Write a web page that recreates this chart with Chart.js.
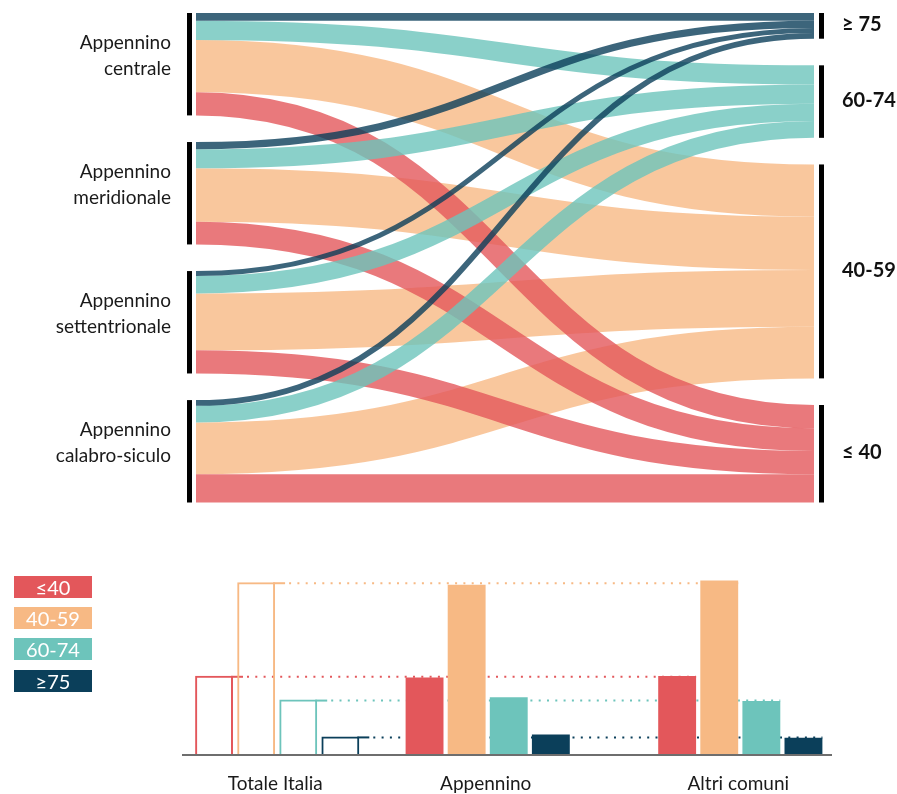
<!DOCTYPE html>
<html>
<head>
<meta charset="utf-8">
<script src="https://cdn.jsdelivr.net/npm/chart.js@4.4.1/dist/chart.umd.min.js"></script>
<style>
  html, body { margin: 0; padding: 0; background: #fff; }
  #wrap { position: relative; width: 897px; height: 794px; overflow: hidden; font-family: Lato, "Open Sans", sans-serif; }
  #sankey { position: absolute; left: 0; top: 0; width: 897px; height: 520px; }
  #bars { position: absolute; left: 0; top: 540px; width: 897px; height: 254px; }
  .key { position: absolute; left: 14px; width: 78px; height: 22px; line-height: 22px; color: #fff;
         text-align: center; font-size: 20px; font-family: Lato, sans-serif; }
</style>
</head>
<body>
<div id="wrap">
  <canvas id="sankey" width="897" height="520"></canvas>
  <canvas id="bars" width="897" height="254"></canvas>
  <div id="legend"></div>
</div>
<script>
// ---- Flow diagram: regions (left) to age bands (right) ----
const regionNames = [
  ['Appennino', 'centrale'],
  ['Appennino', 'meridionale'],
  ['Appennino', 'settentrionale'],
  ['Appennino', 'calabro-siculo']
];
// age bands, top to bottom on the right-hand side
const bandNames = ['≥ 75', '60-74', '40-59', '≤ 40'];
// share of each band inside each region (%), in bandNames order
const shareCentrale       = [7.5, 18.8, 51.0, 22.7];
const shareMeridionale    = [7.1, 18.6, 52.1, 22.2];
const shareSettentrionale = [4.9, 17.0, 55.5, 22.6];
const shareCalabroSiculo  = [5.6, 16.4, 50.3, 27.7];

// ---- Bar chart: band shares by area (%) ----
const groupNames = ['Totale Italia', 'Appennino', 'Altri comuni'];
const legendNames = ['≤40', '40-59', '60-74', '≥75'];
const under40    = [24.3, 23.8, 24.2];
const from40to59 = [53.0, 52.2, 53.5];
const from60to74 = [17.0, 17.7, 16.6];
const over75     = [5.7, 6.3, 5.3];

// colours, bar order (≤40 … ≥75)
const seriesColors = ['#e3575b', '#f7b984', '#6dc4bb', '#0b3f5a'];
// the same colours in band order (≥75 … ≤40)
const bandColors = seriesColors.slice().reverse();

function rgba(hex, a) {
  const n = parseInt(hex.slice(1), 16);
  return `rgba(${(n >> 16) & 255},${(n >> 8) & 255},${n & 255},${a})`;
}

// ---------- flow diagram ----------
const regionShares = [shareCentrale, shareMeridionale, shareSettentrionale, shareCalabroSiculo];
const nodeGap = 26;
const totalUnits = regionShares.flat().reduce((a, b) => a + b, 0) + nodeGap * (regionShares.length - 1);

const sankeyPlugin = {
  id: 'sankeyFlows',
  afterDraw(chart) {
    const { ctx, scales: { x, y } } = chart;
    const px = v => y.getPixelForValue(v);
    const thick = v => Math.abs(y.getPixelForValue(v) - y.getPixelForValue(0));

    // stack the nodes on each side
    let acc = 0;
    const left = regionShares.map(r => {
      const t = r.reduce((a, b) => a + b, 0);
      const n = { y0: acc, y1: acc + t };
      acc += t + nodeGap;
      return n;
    });
    acc = 0;
    const right = bandNames.map((_, j) => {
      const t = regionShares.reduce((a, r) => a + r[j], 0);
      const n = { y0: acc, y1: acc + t };
      acc += t + nodeGap;
      return n;
    });

    // links: bands stacked inside a region, regions stacked inside a band
    const srcOff = left.map(n => n.y0);
    const tgtOff = right.map(n => n.y0);
    const links = [];
    regionShares.forEach((r, i) => r.forEach((v, j) => {
      links.push({ j, v, s: srcOff[i] + v / 2, t: tgtOff[j] + v / 2 });
      srcOff[i] += v;
      tgtOff[j] += v;
    }));

    const x0 = x.getPixelForValue(0);
    const x1 = x.getPixelForValue(1);
    const xm = (x0 + x1) / 2;
    ctx.save();
    ctx.lineCap = 'butt';
    [2, 3, 1, 0].forEach(j => {
      links.filter(l => l.j === j).forEach(l => {
        const ys = px(l.s), yt = px(l.t);
        ctx.beginPath();
        ctx.moveTo(x0, ys);
        ctx.bezierCurveTo(xm, ys, xm, yt, x1, yt);
        ctx.lineWidth = thick(l.v);
        ctx.strokeStyle = rgba(bandColors[j], 0.8);
        ctx.stroke();
      });
    });

    // node bars
    ctx.fillStyle = '#000';
    left.forEach(n => ctx.fillRect(x0 - 9, px(n.y0), 5, px(n.y1) - px(n.y0)));
    right.forEach(n => ctx.fillRect(x1 + 5, px(n.y0), 5, px(n.y1) - px(n.y0)));

    // region labels
    ctx.fillStyle = '#1a1a1a';
    ctx.font = '19px Lato, sans-serif';
    ctx.textAlign = 'right';
    ctx.textBaseline = 'alphabetic';
    left.forEach((n, i) => {
      const c = (px(n.y0) + px(n.y1)) / 2;
      ctx.fillText(regionNames[i][0], x0 - 25, c - 15);
      ctx.fillText(regionNames[i][1], x0 - 25, c + 11);
    });

    // band labels
    ctx.fillStyle = '#111';
    ctx.font = 'bold 20px Lato, sans-serif';
    ctx.textAlign = 'left';
    ctx.textBaseline = 'middle';
    right.forEach((n, j) => {
      const c = (px(n.y0) + px(n.y1)) / 2;
      ctx.fillText(bandNames[j], x1 + 28, c - 1);
    });
    ctx.restore();
  }
};

new Chart(document.getElementById('sankey'), {
  type: 'scatter',
  data: { datasets: [] },
  options: {
    responsive: false,
    animation: false,
    layout: { padding: { left: 196, right: 83, top: 13, bottom: 17.5 } },
    plugins: { legend: { display: false }, tooltip: { enabled: false } },
    scales: {
      x: { type: 'linear', min: 0, max: 1, display: false },
      y: { type: 'linear', min: 0, max: totalUnits, reverse: true, display: false }
    }
  },
  plugins: [sankeyPlugin]
});

// ---------- bar chart ----------
// one slot per bar; empty slots separate the three groups
const groupStart = [0, 5, 11];
const slotCount = 15;
const seriesValues = [under40, from40to59, from60to74, over75];

const barDatasets = seriesValues.map((vals, s) => {
  const data = Array(slotCount).fill(null);
  const bg = Array(slotCount).fill('rgba(0,0,0,0)');
  const bw = Array(slotCount).fill(0);
  vals.forEach((v, g) => {
    const k = groupStart[g] + s;
    data[k] = v;
    // the national total is drawn as an outline
    bg[k] = g === 0 ? 'rgba(0,0,0,0)' : seriesColors[s];
    bw[k] = g === 0 ? 2 : 0;
  });
  return {
    label: legendNames[s],
    data,
    backgroundColor: bg,
    borderColor: seriesColors[s],
    borderWidth: bw,
    borderSkipped: 'bottom',
    grouped: false,
    barPercentage: 0.9,
    categoryPercentage: 1
  };
});

const barDecor = {
  id: 'barDecor',
  beforeDatasetsDraw(chart) {
    const { ctx } = chart;
    ctx.save();
    seriesValues.forEach((_, s) => {
      const meta = chart.getDatasetMeta(s);
      const ref = meta.data[groupStart[0] + s];
      const last = meta.data[groupStart[2] + s];
      const yy = ref.y + 1;
      const rEdge = ref.x + ref.width / 2;
      // short solid extension of the outline top
      ctx.strokeStyle = seriesColors[s];
      ctx.lineWidth = 2;
      ctx.setLineDash([]);
      ctx.beginPath();
      ctx.moveTo(rEdge - 2, yy);
      ctx.lineTo(rEdge + 10, yy);
      ctx.stroke();
      // dotted reference line across the other groups
      ctx.setLineDash([2, 6.3]);
      ctx.beginPath();
      ctx.moveTo(rEdge + 14, yy);
      ctx.lineTo(last.x + last.width / 2, yy);
      ctx.stroke();
    });
    ctx.restore();
  },
  afterDatasetsDraw(chart) {
    const { ctx, chartArea, scales: { y } } = chart;
    const base = y.getPixelForValue(0);
    ctx.save();
    ctx.strokeStyle = '#6e6e6e';
    ctx.lineWidth = 2;
    ctx.beginPath();
    ctx.moveTo(chartArea.left - 11, base);
    ctx.lineTo(chartArea.right + 7.5, base);
    ctx.stroke();

    // group labels under the axis
    ctx.fillStyle = '#1a1a1a';
    ctx.font = '19px Lato, sans-serif';
    ctx.textAlign = 'center';
    ctx.textBaseline = 'alphabetic';
    groupNames.forEach((name, g) => {
      const a = chart.getDatasetMeta(0).data[groupStart[g]];
      const b = chart.getDatasetMeta(seriesValues.length - 1).data[groupStart[g] + seriesValues.length - 1];
      ctx.fillText(name, (a.x + b.x) / 2 - 2, base + 35);
    });
    ctx.restore();
  }
};

new Chart(document.getElementById('bars'), {
  type: 'bar',
  data: { labels: Array(slotCount).fill(''), datasets: barDatasets },
  options: {
    responsive: false,
    animation: false,
    layout: { padding: { left: 193, right: 72.5, top: 19.4, bottom: 39 } },
    plugins: { legend: { display: false }, tooltip: { enabled: false } },
    scales: {
      x: { type: 'category', display: false },
      y: { min: 0, max: 60, display: false }
    }
  },
  plugins: [barDecor]
});

// ---------- colour key ----------
const legendTops = [576, 607, 638, 670];
const legend = document.getElementById('legend');
legendNames.forEach((name, s) => {
  const d = document.createElement('div');
  d.className = 'key';
  d.style.top = legendTops[s] + 'px';
  d.style.background = seriesColors[s];
  d.textContent = name;
  legend.appendChild(d);
});
</script>
</body>
</html>
